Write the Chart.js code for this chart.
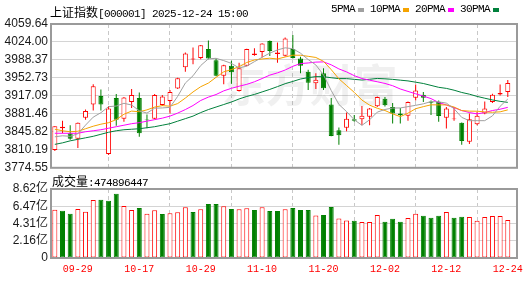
<!DOCTYPE html>
<html>
<head>
<meta charset="utf-8">
<script src="https://cdn.jsdelivr.net/npm/chart.js@4.4.1/dist/chart.umd.min.js"></script>
<style>
  body { margin: 0; background: #fff; width: 530px; height: 282px; overflow: hidden; position: relative; }
  canvas { position: absolute; left: 0; }
  #price { top: 0; }
  #vol { top: 178px; }
  .txt { position: absolute; line-height: 16px; white-space: pre; color: #000; z-index: 2; }
  .cjk { font: 12px 'Noto Sans CJK SC'; }
  .mono { font: 11px 'Liberation Mono'; letter-spacing: -0.6px; }
  #legend { left: 331px; top: 3px; display: flex; align-items: center; }
  #legend .sq { display: inline-block; width: 6px; height: 4px; margin: 1px 6px 0 3px; }
</style>
</head>
<body>
<canvas id="price" width="530" height="178"></canvas>
<canvas id="vol" width="530" height="104"></canvas>
<div class="txt" style="left:50px;top:3px"><span class="cjk">上证指数</span><span class="mono">[000001] 2025-12-24 15:00</span></div>
<div class="txt mono" id="legend"></div>
<div class="txt" style="left:52px;top:172px"><span class="cjk">成交量</span><span class="mono">:474896447</span></div>
<script>
const dates = ["09-24", "09-25", "09-26", "09-29", "09-30", "10-09", "10-10", "10-13", "10-14", "10-15",
  "10-16", "10-17", "10-20", "10-21", "10-22", "10-23", "10-24", "10-27", "10-28", "10-29",
  "10-30", "10-31", "11-03", "11-04", "11-05", "11-06", "11-07", "11-10", "11-11", "11-12",
  "11-13", "11-14", "11-17", "11-18", "11-19", "11-20", "11-21", "11-24", "11-25", "11-26",
  "11-27", "11-28", "12-01", "12-02", "12-03", "12-04", "12-05", "12-08", "12-09", "12-10",
  "12-11", "12-12", "12-15", "12-16", "12-17", "12-18", "12-19", "12-22", "12-23", "12-24"];

const openP = [3810, 3853, 3843, 3832, 3874, 3900, 3917, 3802, 3913, 3872,
  3905, 3913, 3870, 3872, 3899, 3907, 3932, 3974, 3989.5, 3992,
  4010, 3988, 3957, 3977, 3927, 3977, 3998, 4004, 4026, 4000,
  3996.5, 4010, 3991, 3965, 3942, 3962, 3900, 3849, 3854, 3871,
  3871, 3875.6, 3896.5, 3911.5, 3895, 3882, 3877.5, 3913.5, 3919.3, 3906,
  3905, 3873.6, 3871, 3864, 3826.4, 3861, 3882, 3905, 3920, 3924.6];
const highP = [3857, 3868, 3859, 3864.5, 3890, 3940, 3930, 3897, 3921, 3915,
  3931, 3924, 3880, 3921, 3919, 3929, 3953, 4003, 4013, 4018,
  4027, 3991, 3979, 3987, 3983, 4010.5, 4011.6, 4021.5, 4027, 4023,
  4033, 4038, 3994.5, 3969, 3962, 3972, 3913, 3854.6, 3884, 3879,
  3897, 3893, 3916, 3915, 3903, 3893, 3906, 3939.6, 3924.7, 3908,
  3908, 3895, 3895, 3864.5, 3882, 3885.4, 3906, 3921.3, 3939.6, 3948.8];
const lowP = [3808, 3843, 3830, 3814, 3870, 3888, 3888, 3800, 3858, 3866,
  3893, 3836, 3853, 3871, 3897, 3882, 3931, 3965, 3980, 3990,
  3990, 3956, 3940, 3941, 3926, 3976, 3996.5, 3993, 3996, 3983,
  3995, 3991, 3962, 3929, 3931, 3929, 3837, 3820, 3847, 3866,
  3859, 3859, 3895, 3896, 3862.5, 3862.5, 3868, 3908, 3905, 3879,
  3866, 3852.6, 3867.7, 3820, 3821.7, 3859, 3880.7, 3903, 3918, 3914.8];
const closeP = [3857, 3856, 3832, 3864, 3887, 3936, 3900, 3892, 3870, 3914,
  3919, 3843, 3869, 3919, 3916, 3925, 3952, 4001, 3991, 4017.5,
  3991.4, 3957, 3978, 3964, 3972, 4010, 4001, 4021, 4006, 4003,
  4031, 3992, 3977, 3943, 3949, 3932.5, 3837.5, 3839, 3872, 3868,
  3877.5, 3892, 3915, 3898.4, 3882, 3878.7, 3905, 3928, 3913.5, 3903.7,
  3877, 3892, 3872, 3827.7, 3871, 3877.5, 3892, 3919.3, 3922.7, 3942.9];

// volume in 亿
const volume = [6.04, 5.91, 5.54, 6.12, 5.79, 7.25, 7.29, 7.16, 8.04, 6.50,
  6.00, 6.25, 5.54, 5.95, 5.49, 5.58, 5.70, 6.33, 5.74, 6.08,
  6.75, 6.75, 6.46, 6.12, 6.08, 6.20, 6.00, 6.33, 5.87, 5.87,
  6.08, 6.25, 6.00, 6.00, 5.32, 5.37, 6.37, 4.95, 4.70, 4.66,
  4.50, 4.50, 5.37, 4.54, 4.91, 4.54, 5.00, 5.54, 5.29, 5.04,
  5.29, 5.75, 5.04, 5.16, 5.12, 4.66, 5.12, 5.25, 5.25, 4.749];

const ma5 = [3836, 3838, 3837, 3842, 3859.2, 3875, 3883.8, 3895.8, 3897, 3902.4,
  3899, 3887.6, 3883, 3892.8, 3893.2, 3894.4, 3916.2, 3942.6, 3957, 3977.3,
  3990.6, 3991.6, 3987, 3981.6, 3972.5, 3976.2, 3985, 3993.6, 4002, 4008.2,
  4012.4, 4010.6, 4001.8, 3989.2, 3978.4, 3958.7, 3927.8, 3900.2, 3886, 3869.8,
  3858.8, 3869.7, 3884.9, 3890.2, 3893, 3893.2, 3895.8, 3898.4, 3901.4, 3905.8,
  3905.4, 3902.8, 3891.6, 3874.5, 3867.9, 3868, 3868, 3877.5, 3896.5, 3910.9];
const ma10 = [3851, 3848, 3846, 3847, 3852, 3857, 3861, 3864, 3870, 3880.8,
  3887, 3885.7, 3889.4, 3894.9, 3897.8, 3896.7, 3901.9, 3912.8, 3924.9, 3935.3,
  3942.5, 3953.9, 3964.8, 3969.3, 3974.9, 3983.4, 3988.3, 3990.3, 3991.8, 3990.3,
  3994.3, 3997.8, 3997.7, 3995.6, 3993.3, 3985.6, 3969.2, 3951, 3937.6, 3924.1,
  3908.8, 3898.8, 3892.6, 3888.1, 3881.4, 3876, 3882.8, 3891.7, 3895.8, 3899.4,
  3899.3, 3899.3, 3895, 3888, 3886.9, 3886.7, 3885.4, 3884.6, 3885.5, 3889.4];
const ma20 = [3843, 3843, 3843, 3843, 3846, 3848, 3850, 3853, 3856, 3859,
  3862, 3864, 3867, 3870, 3873, 3877, 3883, 3890, 3898, 3908,
  3914.7, 3919.8, 3927.1, 3932.1, 3936.3, 3940, 3945.1, 3951.5, 3958.3, 3962.8,
  3968.4, 3975.8, 3981.2, 3982.4, 3984.1, 3984.5, 3978.7, 3970.6, 3964.7, 3957.2,
  3951.5, 3948.3, 3945.1, 3941.8, 3937.3, 3930.8, 3926, 3921.3, 3916.7, 3911.7,
  3904, 3899, 3893.8, 3888, 3884.1, 3881.4, 3884.1, 3888.1, 3890.7, 3894.4];
const ma30 = [3821, 3824, 3828, 3831, 3834, 3837, 3841, 3845, 3848, 3850,
  3851, 3852, 3854, 3856, 3859, 3862, 3867, 3872, 3877, 3884,
  3890, 3895, 3900, 3905, 3911, 3916, 3920, 3925, 3930, 3935.5,
  3941.3, 3945.8, 3950.6, 3953.3, 3955.3, 3955.2, 3953.1, 3951.4, 3951.4, 3949.9,
  3948.5, 3950.1, 3951.7, 3951, 3949.9, 3948.3, 3946.8, 3944.3, 3941.7, 3937.9,
  3934.1, 3932, 3928.4, 3923.9, 3920.5, 3916.1, 3912.5, 3909.1, 3906.3, 3904.3];

const priceTicks = [3774.55, 3810.19, 3845.82, 3881.46, 3917.09, 3952.73, 3988.37, 4024.00, 4059.64];
const volTicks = [0, 2.155, 4.31, 6.465, 8.62];
const volTickLabels = ["0", "2.16亿", "4.31亿", "6.47亿", "8.62亿"];
const labelIdx = [3, 11, 19, 27, 35, 43, 51, 59];

const maNames = ["5PMA", "10PMA", "20PMA", "30PMA"];
const maColors = ["#a0a0a0", "#f5a300", "#ff00ff", "#00803c"];

const RED = "#ff0000", GREEN = "#008000";
const up = closeP.map((c, i) => c >= openP[i]);
const volUp = closeP.map((c, i) => i === 0 ? up[0] : c >= closeP[i - 1]);

// legend
const legend = document.getElementById("legend");
maNames.forEach((n, i) => {
  legend.insertAdjacentHTML("beforeend", `<span>${n}</span><span class="sq" style="background:${maColors[i]}"></span>`);
});

const wicks = dates.map((d, i) => ({ x: i, y: [lowP[i], highP[i]] }));
const bodies = dates.map((d, i) => {
  let lo = Math.min(openP[i], closeP[i]), hi = Math.max(openP[i], closeP[i]);
  if (hi - lo < 1.2) { const m = (lo + hi) / 2; lo = m - 0.6; hi = m + 0.6; }
  return { x: i, y: [lo, hi] };
});

const frame = {
  id: "frame",
  afterDraw(chart) {
    const { ctx, chartArea: a } = chart;
    ctx.save();
    ctx.strokeStyle = "#9a9a9a";
    ctx.lineWidth = 2;
    ctx.strokeRect(a.left, a.top, a.right - a.left, a.bottom - a.top);
    ctx.restore();
  }
};

const watermark = {
  id: "watermark",
  beforeDatasetsDraw(chart) {
    const { ctx, chartArea: a } = chart;
    ctx.save();
    ctx.font = "bold 44px 'Noto Sans CJK SC'";
    ctx.fillStyle = "rgba(110,110,110,0.10)";
    ctx.textAlign = "center";
    ctx.textBaseline = "middle";
    ctx.fillText("东方财富", a.left + (a.right - a.left) * 0.555, a.top + 61);
    ctx.restore();
  }
};

const xBase = {
  type: "linear", min: -0.5, max: 60.2, offset: false,
  afterBuildTicks: s => { s.ticks = labelIdx.map(v => ({ value: v })); },
  grid: { color: "#c8c8c8", drawTicks: false },
  border: { display: false, dash: [4, 3] }
};
const yFont = { family: "'Liberation Sans', 'Noto Sans CJK SC'", size: 12 };

new Chart(document.getElementById("price"), {
  type: "bar",
  data: {
    datasets: [
      ...[ma5, ma10, ma20, ma30].map((arr, k) => ({
        type: "line",
        label: maNames[k],
        data: arr.map((v, i) => ({ x: i, y: v })),
        borderColor: maColors[k],
        borderWidth: 1,
        pointRadius: 0,
        tension: 0,
        order: 0
      })),
      {
        label: "body",
        data: bodies,
        grouped: false,
        barThickness: 5,
        backgroundColor: up.map(u => u ? "#ffffff" : GREEN),
        borderColor: up.map(u => u ? RED : GREEN),
        borderWidth: 1,
        borderSkipped: false,
        inflateAmount: 0,
        order: 1
      },
      {
        label: "wick",
        data: wicks,
        grouped: false,
        barThickness: 1,
        backgroundColor: up.map(u => u ? RED : GREEN),
        borderWidth: 0,
        inflateAmount: 0,
        order: 2
      }
    ]
  },
  options: {
    animation: false,
    responsive: false,
    events: [],
    layout: { padding: { top: 24, right: 13, bottom: 9, left: 0 } },
    plugins: { legend: { display: false }, tooltip: { enabled: false } },
    scales: {
      x: Object.assign({}, xBase, {
        ticks: { display: false },
        afterFit: s => { s.height = 0; }
      }),
      y: {
        min: 3774.55, max: 4059.64,
        afterBuildTicks: s => { s.ticks = priceTicks.map(v => ({ value: v })); },
        afterFit: s => { s.width = 51; },
        ticks: { padding: 3, color: "#1a1a1a", font: yFont, autoSkip: false, callback: v => v.toFixed(2) },
        grid: { color: "#d4d4d4", drawTicks: false },
        border: { display: false }
      }
    }
  },
  plugins: [watermark, frame]
});

new Chart(document.getElementById("vol"), {
  type: "bar",
  data: {
    datasets: [{
      label: "volume",
      data: volume.map((v, i) => ({ x: i, y: v })),
      barThickness: 5,
      backgroundColor: volUp.map(u => u ? "#ffffff" : GREEN),
      borderColor: volUp.map(u => u ? RED : GREEN),
      borderWidth: 1,
      borderSkipped: false,
      inflateAmount: 0
    }]
  },
  options: {
    animation: false,
    responsive: false,
    events: [],
    layout: { padding: { top: 11, right: 13, bottom: 0, left: 0 } },
    plugins: { legend: { display: false }, tooltip: { enabled: false } },
    scales: {
      x: Object.assign({}, xBase, {
        afterFit: s => { s.height = 24; },
        ticks: {
          autoSkip: false, maxRotation: 0, padding: 5, color: RED,
          font: { family: "'Liberation Mono'", size: 10 },
          callback: v => dates[v]
        }
      }),
      y: {
        min: 0, max: 8.62,
        afterBuildTicks: s => { s.ticks = volTicks.map(v => ({ value: v })); },
        afterFit: s => { s.width = 51; },
        ticks: { padding: 3, color: "#1a1a1a", font: yFont, autoSkip: false, callback: (v, i) => volTickLabels[i] },
        grid: { color: "#d4d4d4", drawTicks: false },
        border: { display: false }
      }
    }
  },
  plugins: [frame]
});
</script>
</body>
</html>
